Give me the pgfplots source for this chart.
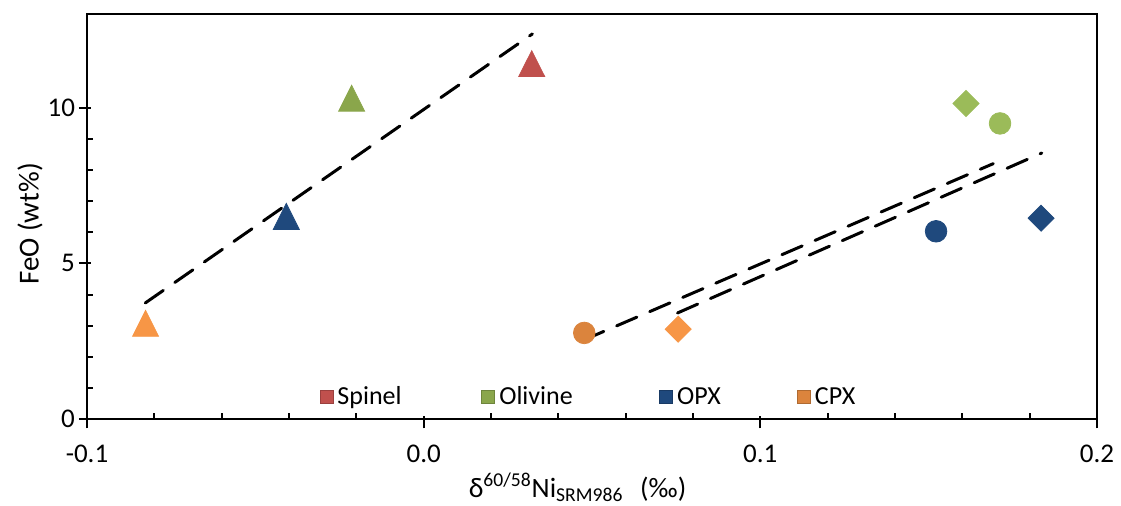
\documentclass[border=0pt]{standalone}
\usepackage{fontspec}
\setmainfont{Carlito}
\usepackage{pgfplots}
\pgfplotsset{compat=1.18}

\definecolor{spinel}{HTML}{C0504D}
\definecolor{olivT}{HTML}{8AA64B}
\definecolor{oliv}{HTML}{9BBB59}
\definecolor{opx}{HTML}{1F497D}
\definecolor{cpx}{HTML}{F79646}
\definecolor{cpxD}{HTML}{DB843D}

\begin{document}
\begin{tikzpicture}
\begin{axis}[
  name=ax, at={(0,0)}, anchor=south west,
  scale only axis, width=505pt, height=202.65pt,
  xmin=-0.1, xmax=0.2, ymin=0, ymax=13,
  xtick={-0.1,0,0.1,0.2}, xticklabels={-0.1,0.0,0.1,0.2},
  ytick={0,5,10}, yticklabels={0,5,10},
  minor x tick num=4, minor y tick num=4,
  xtick pos=bottom, ytick pos=left,
  axis line style={line width=1pt},
  every tick/.style={black, line width=1pt},
  tick align=center,
  major tick length=6pt, minor tick length=3pt,
  minor x tick style={yshift=1.5pt},
  minor y tick style={xshift=1.5pt},
  major x tick style={yshift=-1.5pt},
  major y tick style={xshift=-1pt},
  tick label style={font=\fontsize{13.5}{15}\selectfont},
  xticklabel style={yshift=-6.5pt},
  yticklabel style={xshift=0.5pt},
  xlabel={δ\textsuperscript{60/58}Ni\textsubscript{SRM986}\hspace{0.6em}(‰)},
  xlabel style={font=\fontsize{14}{16}\selectfont, at={(axis description cs:0.371,0)}, anchor=base west, yshift=-38.9pt},
  ylabel={FeO (wt\%)},
  ylabel style={font=\fontsize{14.5}{16}\selectfont, at={(axis description cs:0,0.482)}, anchor=center, yshift=28.5pt},
  legend style={at={(axis cs:-0.031,0.71)}, anchor=west, draw=none, fill=none, inner sep=0pt,
    font=\fontsize{13}{15}\selectfont, /tikz/every even column/.append style={column sep=0pt}},
  legend columns=4,
  legend cell align=left,
]
% markers
\addplot[only marks, mark=triangle*, mark size=7.5pt, color=spinel, mark options={yshift=-2.2pt, yscale=1.15}, forget plot] coordinates {(0.0321,11.41)};
\addplot[only marks, mark=triangle*, mark size=7.5pt, color=olivT, mark options={yshift=-2.2pt, yscale=1.15}, forget plot] coordinates {(-0.0214,10.30)};
\addplot[only marks, mark=triangle*, mark size=7.5pt, color=opx, mark options={yshift=-2.2pt, yscale=1.15}, forget plot] coordinates {(-0.0408,6.51)};
\addplot[only marks, mark=triangle*, mark size=7.5pt, color=cpx, mark options={yshift=-2.2pt, yscale=1.15}, forget plot] coordinates {(-0.0826,3.08)};
\addplot[only marks, mark=*, mark size=5.4pt, color=oliv, forget plot] coordinates {(0.1712,9.49)};
\addplot[only marks, mark=*, mark size=5.4pt, color=opx, forget plot] coordinates {(0.1522,6.03)};
\addplot[only marks, mark=*, mark size=5.4pt, color=cpxD, forget plot] coordinates {(0.0477,2.77)};
\addplot[only marks, mark=square*, mark size=4.6pt, color=oliv, mark options={rotate=45}, forget plot] coordinates {(0.1611,10.13)};
\addplot[only marks, mark=square*, mark size=4.6pt, color=opx, mark options={rotate=45}, forget plot] coordinates {(0.1834,6.45)};
\addplot[only marks, mark=square*, mark size=4.6pt, color=cpx, mark options={rotate=45}, forget plot] coordinates {(0.0756,2.89)};
% trend lines
\addplot[black, line width=1.5pt, dash pattern=on 11pt off 7pt, line cap=round, forget plot] coordinates {(-0.0827,3.73) (0.0323,12.36)};
\addplot[black, line width=1.5pt, dash pattern=on 11pt off 7pt, line cap=round, forget plot] coordinates {(0.0475,2.54) (0.1692,8.20)};
\addplot[black, line width=1.5pt, dash pattern=on 11pt off 7pt, line cap=round, forget plot] coordinates {(0.0754,3.41) (0.1836,8.54)};
% legend
\addlegendimage{legend image code/.code={\draw[fill=spinel, draw=spinel!80!black, line width=0.4pt] (0pt,-3.25pt) rectangle (6.5pt,3.25pt);}}
\addlegendentry{\makebox[70pt][l]{Spinel}}
\addlegendimage{legend image code/.code={\draw[fill=olivT, draw=olivT!80!black, line width=0.4pt] (0pt,-3.25pt) rectangle (6.5pt,3.25pt);}}
\addlegendentry{\makebox[78pt][l]{Olivine}}
\addlegendimage{legend image code/.code={\draw[fill=opx, draw=opx!80!black, line width=0.4pt] (0pt,-3.25pt) rectangle (6.5pt,3.25pt);}}
\addlegendentry{\makebox[58pt][l]{OPX}}
\addlegendimage{legend image code/.code={\draw[fill=cpxD, draw=cpxD!80!black, line width=0.4pt] (0pt,-3.25pt) rectangle (6.5pt,3.25pt);}}
\addlegendentry{CPX}
\end{axis}
\pgfresetboundingbox
\path (-43.5pt,-43.35pt) rectangle (517pt,209.65pt);
\end{tikzpicture}
\end{document}
